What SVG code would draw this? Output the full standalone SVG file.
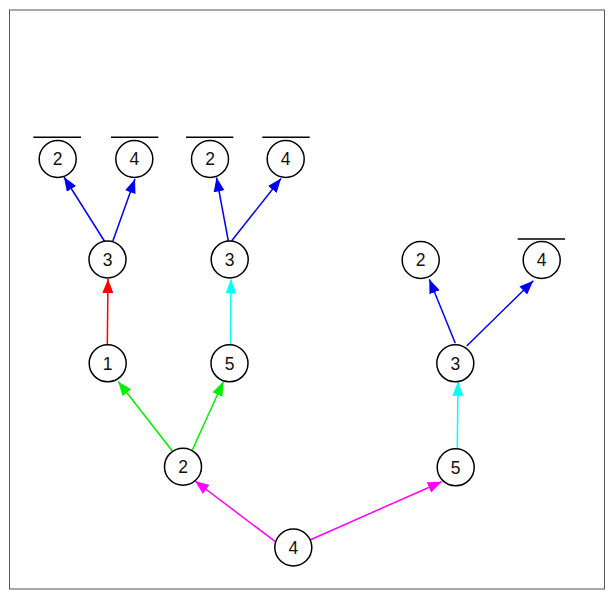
<svg xmlns="http://www.w3.org/2000/svg" width="614" height="597" viewBox="0 0 614 597">
<style>
.n circle{fill:#fff;stroke:#000;stroke-width:1.5}
.n text{font-family:"Liberation Sans",Arial,sans-serif;font-size:17.5px;text-anchor:middle;fill:#111}
.n line{stroke:#000;stroke-width:1.5}
.e path{fill:none;stroke-width:1.5}
</style>
<defs>
<marker id="ab" markerUnits="userSpaceOnUse" markerWidth="16" markerHeight="12" refX="14" refY="5.5" orient="auto"><path d="M0,0 L14,5.5 L0,11 z" fill="#0000f0"/></marker>
<marker id="ar" markerUnits="userSpaceOnUse" markerWidth="16" markerHeight="12" refX="14" refY="5.5" orient="auto"><path d="M0,0 L14,5.5 L0,11 z" fill="#ff0000"/></marker>
<marker id="ag" markerUnits="userSpaceOnUse" markerWidth="16" markerHeight="12" refX="14" refY="5.5" orient="auto"><path d="M0,0 L14,5.5 L0,11 z" fill="#00ee00"/></marker>
<marker id="ac" markerUnits="userSpaceOnUse" markerWidth="16" markerHeight="12" refX="14" refY="5.5" orient="auto"><path d="M0,0 L14,5.5 L0,11 z" fill="#00ffff"/></marker>
<marker id="am" markerUnits="userSpaceOnUse" markerWidth="16" markerHeight="12" refX="14" refY="5.5" orient="auto"><path d="M0,0 L14,5.5 L0,11 z" fill="#ff00ff"/></marker>
</defs>
<rect x="0" y="0" width="614" height="597" fill="#fff"/>
<rect x="9.5" y="10" width="595" height="579" fill="none" stroke="#555" stroke-width="1"/>
<g id="edges" class="e">
<path d="M105,242 L64,177" stroke="#0000f0" marker-end="url(#ab)"/>
<path d="M112.5,242 L135,179" stroke="#0000f0" marker-end="url(#ab)"/>
<path d="M228.5,242 L216.5,177.5" stroke="#0000f0" marker-end="url(#ab)"/>
<path d="M231.5,241 L281,178.5" stroke="#0000f0" marker-end="url(#ab)"/>
<path d="M107.3,345 L108,279" stroke="#ff0000" marker-end="url(#ar)"/>
<path d="M230.5,345 L231,279.5" stroke="#00ffff" marker-end="url(#ac)"/>
<path d="M172.3,451 L118.3,381.7" stroke="#00ee00" marker-end="url(#ag)"/>
<path d="M192.3,450 L223.3,381.7" stroke="#00ee00" marker-end="url(#ag)"/>
<path d="M276.7,542.7 L195,481" stroke="#ff00ff" marker-end="url(#am)"/>
<path d="M310,540 L441.7,481.7" stroke="#ff00ff" marker-end="url(#am)"/>
<path d="M457.3,448.3 L458,381.7" stroke="#00ffff" marker-end="url(#ac)"/>
<path d="M455.3,343.3 L429.3,279.3" stroke="#0000f0" marker-end="url(#ab)"/>
<path d="M466.7,346 L533.3,280.7" stroke="#0000f0" marker-end="url(#ab)"/>
</g>
<g id="n_t2a" class="n"><line x1="33.3" y1="137.3" x2="81" y2="137.3"/><circle cx="57.7" cy="159" r="18.5"/><text x="57.7" y="165.3">2</text></g>
<g id="n_t4a" class="n"><line x1="111" y1="137.3" x2="158.3" y2="137.3"/><circle cx="134.3" cy="159" r="18.5"/><text x="134.3" y="165.3">4</text></g>
<g id="n_t2b" class="n"><line x1="186" y1="137.3" x2="233.3" y2="137.3"/><circle cx="210" cy="159" r="18.5"/><text x="210" y="165.3">2</text></g>
<g id="n_t4b" class="n"><line x1="262.3" y1="137.3" x2="309.7" y2="137.3"/><circle cx="285.7" cy="159" r="18.5"/><text x="285.7" y="165.3">4</text></g>
<g id="n_3a" class="n"><circle cx="107.5" cy="259.5" r="18.5"/><text x="107.5" y="265.8">3</text></g>
<g id="n_3b" class="n"><circle cx="229.7" cy="259.5" r="18.5"/><text x="229.7" y="265.8">3</text></g>
<g id="n_2r" class="n"><circle cx="420.7" cy="260" r="18.5"/><text x="420.7" y="266.3">2</text></g>
<g id="n_4r" class="n"><line x1="517.7" y1="239" x2="565" y2="239"/><circle cx="541.7" cy="260" r="18.5"/><text x="541.7" y="266.3">4</text></g>
<g id="n_1" class="n"><circle cx="107.7" cy="363.3" r="18.5"/><text x="107.7" y="369.6">1</text></g>
<g id="n_5a" class="n"><circle cx="229.5" cy="363.3" r="18.5"/><text x="229.5" y="369.6">5</text></g>
<g id="n_3r" class="n"><circle cx="455.3" cy="363.3" r="18.5"/><text x="455.3" y="369.6">3</text></g>
<g id="n_2" class="n"><circle cx="183" cy="466.7" r="18.5"/><text x="183" y="473">2</text></g>
<g id="n_5r" class="n"><circle cx="455.7" cy="467.3" r="18.5"/><text x="455.7" y="473.6">5</text></g>
<g id="n_4" class="n"><circle cx="293.3" cy="547.5" r="18.5"/><text x="293.3" y="553.8">4</text></g>
</svg>
